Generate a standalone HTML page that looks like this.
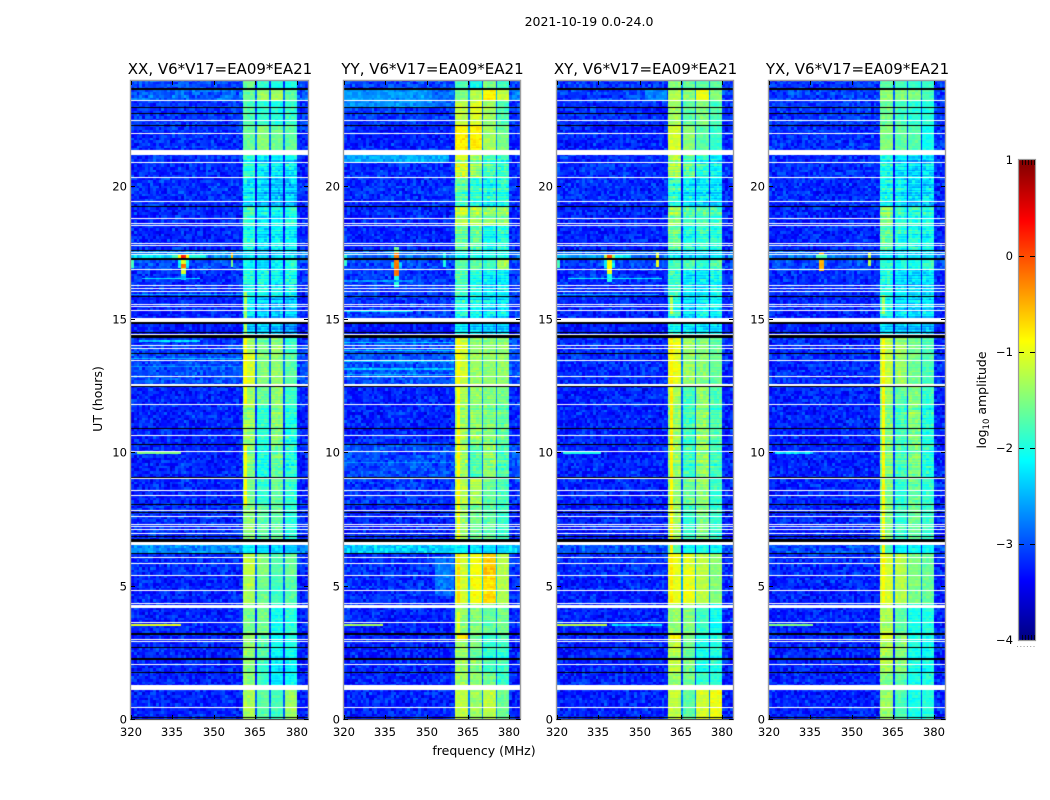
<!DOCTYPE html>
<html lang="en">
<head>
<meta charset="utf-8">
<title>2021-10-19 0.0-24.0 waterfall plots</title>
<style>
  html, body { margin: 0; padding: 0; background: #fff; }
  #figure { position: relative; width: 1050px; height: 800px; overflow: hidden; background: #fff; }
  #figure canvas { position: absolute; display: block; }
  #overlay { position: absolute; left: 0; top: 0; }
  #overlay text { font-family: "DejaVu Sans", "Liberation Sans", sans-serif; fill: #000; }
</style>
</head>
<body>
<div id="figure">
  <svg id="overlay" width="1050" height="800" viewBox="0 0 1050 800">
    <text x="589" y="26" font-size="12.5" text-anchor="middle">2021-10-19 0.0-24.0</text>
    <text x="484" y="755" font-size="12.5" text-anchor="middle">frequency (MHz)</text>
    <text transform="translate(102 399) rotate(-90)" font-size="12.5" text-anchor="middle">UT (hours)</text>
    <text transform="translate(986 400) rotate(-90)" font-size="12.5" text-anchor="middle">log<tspan font-size="8.5" dy="3">10</tspan><tspan dy="-3"> amplitude</tspan></text>
  </svg>
</div>
<script>
/* ---------- axis data ---------- */
const hourTicks = [0, 5, 10, 15, 20];
const freqTicks = [320, 335, 350, 365, 380];
const colorTicks = [1, 0, -1, -2, -3, -4];
const panelTitles = ['XX, V6*V17=EA09*EA21', 'YY, V6*V17=EA09*EA21', 'XY, V6*V17=EA09*EA21', 'YX, V6*V17=EA09*EA21'];

/* ---------- spectral windows (MHz) ---------- */
const bandRanges = [[360.5, 365.0], [365.7, 370.0], [370.7, 375.1], [375.8, 380.0]];
const bandCalibration = [0, 0.03, 0.08, 0.14];

/* ---------- time blocks (hours) and log10 amplitude: [background, band1, band2, band3, band4] ---------- */
const blockStarts = [0, 1.27, 1.75, 2.23, 3.19, 4.29, 5.39, 6.21, 6.67, 8.05, 9.05, 10.3, 11.8, 12.5, 13.71, 14.32, 15.05, 15.85, 16.87, 17.23, 17.55, 18.5, 19.22, 20.31, 21.33, 22.26, 23.2, 23.63];
const blockStripe = [0.1, 0.2, 0.2, 0.2, 0.15, 0.1, 0.08, 0.15, 0.2, 0.2, 0.3, 0.25, 0.2, 0.15, 0.15, 0.3, 0.35, 0.35, 0.25, 0.25, 0.35, 0.3, 0.4, 0.4, 0.1, 0.15, 0.1, 0.15];

const xxLevels = [
  [-3.2, -1.3, -1.7, -1.9, -1.5], [-3.2, -1.5, -1.85, -2.3, -2.2], [-3.2, -1.45, -1.9, -2.3, -2.3], [-3.2, -1.4, -1.75, -2.2, -2.2],
  [-3.2, -1.55, -1.6, -2.1, -2.05], [-3.2, -1.3, -1.6, -1.9, -1.85], [-3.15, -1.2, -1.5, -1.8, -1.75], [-2.65, -2.2, -2.3, -2.4, -2.5],
  [-3.15, -1.45, -1.7, -1.75, -2.1], [-3.2, -1.5, -1.9, -1.7, -2.0], [-3.2, -1.5, -2.05, -1.7, -2.1], [-3.2, -1.4, -1.9, -1.55, -2.1],
  [-3.2, -1.35, -1.65, -1.5, -2.0], [-3.0, -1.1, -1.5, -1.5, -1.8], [-3.1, -1.3, -1.6, -1.5, -2.0], [-3.25, -2.3, -2.4, -2.6, -2.8],
  [-3.2, -2.2, -2.4, -2.5, -2.5], [-3.15, -2.0, -2.05, -2.2, -2.2], [-3.0, -2.1, -2.3, -2.2, -2.1], [-2.7, -2.2, -2.4, -2.4, -2.4],
  [-3.2, -2.0, -2.3, -2.2, -2.3], [-3.2, -1.8, -2.1, -2.2, -2.1], [-3.15, -2.2, -2.35, -2.5, -2.5], [-3.15, -1.9, -2.2, -2.3, -2.3],
  [-3.15, -1.6, -1.5, -1.65, -1.8], [-3.1, -1.75, -1.9, -2.05, -2.0], [-2.9, -1.6, -1.4, -1.4, -1.8], [-3.0, -1.6, -1.9, -2.1, -2.2]
];
const yyLevels = [
  [-3.2, -1.2, -1.4, -1.3, -1.75], [-3.2, -1.35, -1.45, -1.65, -2.0], [-3.2, -1.35, -1.5, -1.9, -2.0], [-3.2, -1.4, -1.6, -2.0, -2.0],
  [-3.2, -1.4, -1.5, -1.7, -1.7], [-3.15, -1.1, -0.95, -0.8, -1.4], [-3.15, -1.1, -0.95, -0.7, -1.4], [-2.35, -2.15, -2.3, -2.4, -2.5],
  [-3.2, -1.4, -1.6, -1.75, -2.0], [-3.1, -1.2, -1.3, -1.7, -1.9], [-3.0, -1.35, -1.75, -1.5, -1.9], [-3.2, -1.35, -1.45, -1.6, -1.8],
  [-3.2, -1.3, -1.45, -1.55, -1.7], [-2.95, -1.1, -1.4, -1.5, -1.55], [-3.0, -1.1, -1.4, -1.5, -1.55], [-3.25, -2.2, -2.3, -2.5, -2.5],
  [-3.1, -2.0, -2.1, -2.3, -2.4], [-3.1, -1.8, -2.0, -2.3, -2.3], [-3.0, -1.7, -1.7, -1.9, -1.5], [-2.8, -2.0, -2.0, -2.05, -2.1],
  [-3.2, -1.6, -1.7, -2.1, -2.1], [-3.2, -1.2, -1.3, -1.5, -1.55], [-3.15, -1.7, -1.9, -2.1, -2.1], [-3.15, -1.1, -1.4, -1.9, -2.0],
  [-3.2, -0.8, -0.85, -1.4, -1.7], [-3.1, -1.2, -1.1, -1.45, -1.9], [-2.8, -1.5, -1.25, -0.9, -1.3], [-3.05, -1.8, -2.1, -1.6, -2.0]
];
const xyLevels = [
  [-3.2, -1.2, -1.7, -1.2, -1.1], [-3.2, -1.4, -1.6, -1.9, -2.1], [-3.2, -1.25, -1.6, -2.1, -2.1], [-3.2, -1.25, -1.6, -2.1, -2.1],
  [-3.2, -1.4, -1.5, -1.9, -2.2], [-3.2, -1.0, -1.0, -1.3, -1.6], [-3.15, -1.0, -1.05, -1.3, -1.6], [-2.95, -1.7, -2.1, -2.1, -2.3],
  [-3.2, -1.35, -1.9, -1.6, -2.0], [-3.2, -1.4, -1.6, -1.5, -2.0], [-3.2, -1.4, -1.85, -1.5, -1.9], [-3.2, -1.4, -1.85, -1.5, -1.9],
  [-3.2, -1.35, -1.8, -1.5, -1.9], [-3.15, -1.0, -1.4, -1.55, -1.75], [-3.15, -1.0, -1.4, -1.55, -1.75], [-3.25, -2.0, -2.2, -2.3, -2.4],
  [-3.2, -2.0, -2.3, -2.2, -2.3], [-3.15, -1.9, -2.2, -2.3, -2.2], [-3.05, -1.8, -1.8, -2.0, -1.8], [-2.85, -2.2, -2.3, -2.3, -2.3],
  [-3.2, -1.6, -2.0, -2.0, -2.1], [-3.2, -1.4, -1.75, -1.8, -1.9], [-3.15, -1.9, -2.2, -2.3, -2.4], [-3.15, -1.3, -1.7, -2.0, -2.3],
  [-3.2, -1.1, -1.45, -1.75, -2.0], [-3.15, -1.35, -1.7, -1.6, -1.9], [-3.05, -1.25, -1.45, -1.05, -1.6], [-3.1, -1.5, -1.7, -1.8, -1.8]
];
const yxLevels = [
  [-3.2, -1.4, -1.8, -2.1, -2.1], [-3.2, -1.5, -1.7, -2.1, -2.1], [-3.2, -1.3, -1.5, -2.1, -2.2], [-3.2, -1.3, -1.5, -2.1, -2.2],
  [-3.2, -1.3, -1.7, -2.1, -2.1], [-3.2, -1.1, -1.25, -1.6, -1.75], [-3.15, -1.1, -1.25, -1.6, -1.75], [-3.0, -1.8, -2.2, -2.2, -2.3],
  [-3.2, -1.5, -1.9, -1.7, -2.0], [-3.2, -1.5, -1.9, -1.7, -2.0], [-3.2, -1.5, -1.8, -1.6, -2.1], [-3.2, -1.5, -1.8, -1.6, -2.1],
  [-3.2, -1.4, -1.7, -1.6, -2.0], [-3.15, -1.2, -1.4, -1.65, -1.9], [-3.15, -1.2, -1.4, -1.65, -1.9], [-3.25, -2.3, -2.4, -2.5, -2.6],
  [-3.2, -2.0, -2.3, -2.4, -2.4], [-3.15, -2.0, -2.3, -2.4, -2.4], [-3.05, -1.9, -2.0, -2.1, -2.0], [-2.85, -2.2, -2.3, -2.4, -2.4],
  [-3.2, -1.7, -2.0, -2.1, -2.2], [-3.2, -1.5, -1.9, -2.0, -2.1], [-3.15, -2.0, -2.2, -2.4, -2.4], [-3.15, -2.0, -2.2, -2.4, -2.4],
  [-3.15, -1.5, -1.7, -1.8, -2.2], [-3.1, -1.6, -1.8, -2.0, -2.1], [-3.05, -1.4, -1.5, -1.6, -1.9], [-3.1, -1.7, -1.8, -2.0, -2.0]
];

/* ---------- narrow RFI features: [panel, f0, f1, h0, h1, log10 amplitude] ---------- */
const rfiFeatures = [
  [0, 320, 335, 17.3, 17.4, -2.3], [0, 335, 337, 17.3, 17.4, -1.8], [0, 341, 347, 17.3, 17.4, -2.0], [0, 337, 341, 17.3, 17.4, -0.9], [0, 338, 340, 17.3, 17.4, 0.2],
  [0, 337, 341, 16.9, 17.2, -2.2], [0, 338, 340, 16.7, 17.2, -1.1], [0, 338.4, 339.6, 16.9, 17.05, -0.2], [0, 338, 340, 16.45, 16.7, -2.3],
  [0, 356, 357, 17.25, 17.5, -0.6], [0, 356, 357, 16.95, 17.2, -1.5], [0, 320, 321, 16.9, 17.2, -1.8], [0, 320, 338, 3.5, 3.55, -1.0],
  [0, 322, 338, 9.95, 10, -1.5], [0, 324, 345, 16.5, 16.55, -2.2], [0, 320, 360, 15.9, 15.95, -2.5], [0, 361, 362, 11.8, 14.3, -0.9],
  [0, 361, 362, 8, 10.3, -0.9], [0, 361, 362, 15.05, 16, -1.3], [0, 361, 362, 14.4, 14.8, -1.3], [0, 325, 355, 19.2, 19.25, -2.2],
  [0, 323, 345, 14.15, 14.2, -2.3], [0, 320, 360, 13.5, 13.55, -2.5], [0, 320, 360, 13.2, 13.25, -2.7],
  [1, 337, 341, 16.9, 17.15, -2.4], [1, 338.3, 339.7, 16.6, 17.5, -0.2], [1, 338.3, 339.7, 17.5, 17.7, -1.6], [1, 338.3, 339.7, 16.2, 16.6, -2.0],
  [1, 356, 357, 16.95, 17.5, -2.0], [1, 320, 321, 17, 17.4, -1.9], [1, 320, 360, 13.4, 13.45, -2.4], [1, 320, 360, 13.1, 13.15, -2.4],
  [1, 320, 360, 12.9, 12.95, -2.5], [1, 320, 360, 13.8, 13.85, -2.4], [1, 320, 360, 14.1, 14.15, -2.4], [1, 320, 358, 20.9, 21.15, -2.55],
  [1, 320, 352, 22.9, 23.6, -2.65], [1, 352, 360, 22.9, 23.6, -2.85], [1, 353, 360, 4.6, 6.1, -2.8], [1, 361, 362, 6.7, 14.3, -0.85],
  [1, 361, 362, 2.9, 4, -1.0], [1, 361, 365, 2.99, 3.19, -0.75], [1, 361, 362, 4.3, 6.2, -0.7], [1, 320, 334, 3.5, 3.55, -1.3],
  [1, 320, 345, 15.25, 15.3, -2.3], [1, 320, 345, 16.4, 16.45, -2.6], [1, 320, 360, 9.6, 9.65, -2.7],
  [2, 320, 335, 17.3, 17.4, -2.5], [2, 341, 347, 17.3, 17.4, -2.2], [2, 337, 341, 17.3, 17.4, -1.3], [2, 338, 340, 17.3, 17.4, 0], [2, 337, 341, 16.9, 17.2, -2.3], [2, 338, 340, 16.7, 17.2, -0.9],
  [2, 338, 340, 16.4, 16.7, -2.1], [2, 356, 357, 16.95, 17.5, -1.0], [2, 320, 321, 16.9, 17.2, -1.8], [2, 320, 338, 3.5, 3.55, -1.2],
  [2, 340, 358, 3.5, 3.55, -2.3], [2, 322, 336, 9.95, 10, -2.0], [2, 324, 358, 16.5, 16.55, -2.2], [2, 330, 357, 15.3, 15.35, -1.6],
  [2, 320, 357, 15.9, 15.95, -2.5], [2, 361, 362, 4.3, 14.3, -0.8], [2, 361, 365, 2.99, 3.19, -0.85], [2, 361, 362, 15.2, 15.9, -1.2],
  [2, 352, 360, 23.2, 23.6, -2.7],
  [3, 338.3, 339.7, 16.8, 17.5, -0.5], [3, 337, 341, 17.3, 17.4, -1.8], [3, 356, 357, 17, 17.5, -1.2], [3, 361, 362, 4.3, 14.3, -0.85],
  [3, 320, 336, 3.5, 3.55, -1.5], [3, 322, 336, 9.95, 10, -2.2], [3, 361, 362, 15.2, 15.9, -1.3], [3, 361, 365, 2.99, 3.19, -1.0]
];

/* ---------- flagged (no-data) times, hours ---------- */
const whiteLines = [23.2, 22.46, 21.96, 20.87, 20.31, 19.41, 18.77, 18.59, 18.52, 17.84, 17.76, 17.48, 17.41, 16.87, 16.24, 16.13, 16.04, 15.56, 15.45, 15.32, 14.42, 14.01, 13.91, 13.46, 12.85, 12.55, 12.49, 11.8, 10.64, 10.02, 9.01, 8.58, 8.39, 7.83, 7.61, 7.3, 7.2, 7.09, 6.96, 6.06, 5.84, 5.39, 4.83, 4.34, 3.63, 2.99, 2.89, 2.05, 0.44];
const whiteBands = [[21.15, 21.33], [14.89, 15.05], [4.16, 4.29], [6.52, 6.64], [1.09, 1.27]];
const blackLines = [22.94, 22.7, 22.26, 19.22, 17.55, 15.85, 14.5, 13.71, 12.45, 10.9, 10.3, 9.05, 8.05, 7.74, 6.85, 6.74, 6.21, 2.69, 1.75, 0.06];
const blackBands = [[23.6, 23.67], [17.2, 17.27], [14.82, 14.88], [14.3, 14.38], [6.65, 6.7], [3.16, 3.23], [2.2, 2.27]];

/* ---------- estimated fine-grain texture offsets ---------- */
const speckleA = [0.12, -0.18, 0.05, 0.22, -0.09, -0.2, 0.16, 0.02, -0.14, 0.24, -0.05, 0.09, -0.22, 0.14, -0.02, 0.19, -0.16, 0.07, -0.11, 0.21, -0.24, 0.04, 0.13, -0.07, -0.19, 0.25, 0.01, -0.12, 0.17, -0.21, 0.08, -0.03, 0.2, -0.15, 0.1, -0.25, 0.15, 0.03, -0.08, 0.23, -0.17, 0.06, -0.1, 0.18, -0.23, 0.11, -0.01, 0.26, -0.13, 0.0, -0.2, 0.14, 0.07, -0.16, 0.22, -0.06, 0.04, -0.18, 0.12, -0.09, 0.19];
const speckleB = [-0.1, 0.14, 0.03, -0.17, 0.09, 0.18, -0.06, -0.13, 0.11, -0.02, 0.16, -0.15, 0.06, 0.01, -0.12, 0.2, -0.08, -0.16, 0.13, 0.05, -0.04, 0.17, -0.19, 0.08, -0.11, 0.02, 0.15, -0.14, 0.1, -0.03, -0.18, 0.12, 0.07, -0.09, 0.19, -0.05, -0.13, 0.04, 0.16, -0.2, 0.09, -0.01, 0.13, -0.16, 0.06, -0.07, 0.11];
const stripeOffsets = [0.3, -0.4, 0.1, 0.6, -0.8, 0.2, -0.2, 0.5, -0.6, 0.0, 0.4, -0.3, 0.7, -0.5, 0.15, -0.9, 0.35, 0.05, -0.15, 0.55, -0.45, 0.25, -0.7, 0.45, -0.1, 0.65, -0.35, 0.1, -0.55, 0.3, 0.0];

/* ---------- layout ---------- */
const panelBoxes = [
  { left: 131, width: 177 }, { left: 344, width: 176 }, { left: 557, width: 176 }, { left: 769, width: 176 }
];
const panelLevels = [xxLevels, yyLevels, xyLevels, yxLevels];
const plotBottom = 719, plotTop = 81, pxPerHour = 26.67;
const freqMin = 320, freqMax = 384;
const svgNS = 'http://www.w3.org/2000/svg';
const overlay = document.getElementById('overlay');
const figure = document.getElementById('figure');

function yScale(h) { return plotBottom - h * pxPerHour; }
function xScale(box, f) { return box.left + (f - freqMin) * box.width / (freqMax - freqMin); }
function colorT(v) { return Math.min(1, Math.max(0, (v + 4) / 5)); }
function jet(v) {
  const t = colorT(v);
  const c = function (x) { return Math.round(255 * Math.min(1, Math.max(0, x))); };
  return 'rgb(' + c(1.5 - Math.abs(4 * t - 3)) + ',' + c(1.5 - Math.abs(4 * t - 2)) + ',' + c(1.5 - Math.abs(4 * t - 1)) + ')';
}
function svgEl(tag, attrs, parent) {
  const el = document.createElementNS(svgNS, tag);
  for (const k in attrs) el.setAttribute(k, attrs[k]);
  (parent || overlay).appendChild(el);
  return el;
}
function svgLabel(str, x, y, size, anchor, parent) {
  const el = svgEl('text', { x: x, y: y, 'font-size': size, 'text-anchor': anchor }, parent);
  el.textContent = str;
  return el;
}

function blockIndex(h) {
  let idx = 0;
  for (let i = 0; i < blockStarts.length; i++) if (h >= blockStarts[i]) idx = i;
  return idx;
}
function bandIndex(f) {
  for (let i = 0; i < bandRanges.length; i++) if (f >= bandRanges[i][0] && f < bandRanges[i][1]) return i;
  return -1;
}
function textureAt(col, row, p) {
  const a = (col * col * 3 + row * row * 5 + col * row * 7 + col * 11 + row * 13 + p * 19) % speckleA.length;
  const b = (col * col * 5 + row * row * 2 + col * row * 3 + col * 17 + row * 7 + p * 23) % speckleB.length;
  return speckleA[a] + speckleB[b];
}
function cellValue(p, f, h, col, row, bgRow) {
  const b = blockIndex(h);
  const lv = panelLevels[p][b];
  const band = bandIndex(f);
  let v;
  if (band >= 0) {
    const sp = textureAt(col, bgRow, p);
    v = lv[band + 1] + bandCalibration[band] + stripeOffsets[row % stripeOffsets.length] * blockStripe[b] * 0.9 + sp * (0.25 + blockStripe[b] * 1.2);
  } else if (f > bandRanges[0][0] && f < bandRanges[3][1]) {
    v = Math.min(lv[1], lv[2], lv[3], lv[4]) - 1.0 + textureAt(col, bgRow, p) * 0.35;
  } else {
    v = lv[0] - 0.03 + textureAt(col, bgRow, p) * 0.85;
  }
  for (const r of rfiFeatures) {
    if (r[0] === p && f >= r[1] && f < r[2] && h >= r[3] && h < r[4]) v = r[5] + textureAt(col, bgRow, p) * (r[5] < -2 ? 0.6 : 0.25);
  }
  return v;
}

function fillFlag(ctx, box, h0, h1, color) {
  const top = Math.round(yScale(h1)) - plotTop;
  const bottom = Math.round(yScale(h0)) - plotTop;
  ctx.fillStyle = color;
  ctx.fillRect(0, top, box.width, Math.max(1, bottom - top));
}

function drawHeatmap(p) {
  const box = panelBoxes[p];
  const canvas = document.createElement('canvas');
  
  
  canvas.width = box.width;
  canvas.height = plotBottom - plotTop;
  canvas.style.left = box.left + 'px';
  canvas.style.top = plotTop + 'px';
  figure.insertBefore(canvas, overlay);
  const ctx = canvas.getContext('2d');

  const edges = [];
  for (let f = freqMin; f <= freqMax; f++) edges.push(f);
  bandRanges.forEach(function (r) { edges.push(r[0], r[1]); });
  edges.sort(function (a, b) { return a - b; });

  const rowHours = 0.05, rows = 480;
  for (let r = 0; r < rows; r++) {
    const h0 = r * rowHours, h1 = h0 + rowHours, hm = h0 + rowHours / 2;
    const y0 = Math.round(yScale(h1)) - plotTop, y1 = Math.round(yScale(h0)) - plotTop;
    if (y1 <= 0 || y1 <= y0) continue;
    for (let i = 0; i < edges.length - 1; i++) {
      if (edges[i + 1] <= edges[i]) continue;
      const fm = (edges[i] + edges[i + 1]) / 2;
      const x0 = Math.round(xScale(box, edges[i])) - box.left;
      const x1 = Math.round(xScale(box, edges[i + 1])) - box.left;
      if (x1 <= x0) continue;
      ctx.fillStyle = jet(cellValue(p, fm, hm, Math.floor(fm) - freqMin, r, Math.floor(r / 2)));
      ctx.fillRect(x0, y0, x1 - x0, y1 - y0);
    }
  }
  const hw = 0.018;
  whiteLines.forEach(function (h) { fillFlag(ctx, box, h - hw, h + hw, '#fff'); });
  whiteBands.forEach(function (b) { fillFlag(ctx, box, b[0], b[1], '#fff'); });
  blackLines.forEach(function (h) { fillFlag(ctx, box, h - hw, h + hw, '#000'); });
  blackBands.forEach(function (b) { fillFlag(ctx, box, b[0], b[1], '#000'); });
}

function drawAxes(p) {
  const box = panelBoxes[p];
  const right = box.left + box.width;
  const g = svgEl('g', {});
  
  

  const frame = svgEl('path', {
    d: 'M' + (box.left - 0.5) + ' ' + (plotBottom + 0.5) + 'V' + (plotTop - 0.5) + 'H' + (right + 0.5) + 'V' + (plotBottom + 0.5),
    fill: 'none', stroke: '#a0a0a0', 'stroke-width': 1.4
  }, g);
  
  
  const base = svgEl('line', { x1: box.left - 1, x2: right + 1, y1: plotBottom + 0.5, y2: plotBottom + 0.5, stroke: '#555', 'stroke-width': 1.2 }, g);
  
  

  const title = svgLabel(panelTitles[p], box.left + box.width / 2 + 0.5, 74, 15, 'middle', g);
  
  

  freqTicks.forEach(function (f) {
    const x = Math.round(xScale(box, f)) + 0.5;
    const bottomTick = svgEl('line', { x1: x, x2: x, y1: plotBottom, y2: plotBottom - 4, stroke: '#000', 'stroke-width': 1 }, g);
    
    
    const topTick = svgEl('line', { x1: x, x2: x, y1: plotTop, y2: plotTop + 4, stroke: '#000', 'stroke-width': 1 }, g);
    
    
    const label = svgLabel(String(f), x - 0.5, plotBottom + 17, 11.6, 'middle', g);
    
    
  });
  hourTicks.forEach(function (h) {
    const y = Math.round(yScale(h)) + 0.5;
    const leftTick = svgEl('line', { x1: box.left, x2: box.left + 4, y1: y, y2: y, stroke: '#000', 'stroke-width': 1 }, g);
    
    
    const rightTick = svgEl('line', { x1: right, x2: right - 4, y1: y, y2: y, stroke: '#000', 'stroke-width': 1 }, g);
    
    
    const label = svgLabel(String(h), box.left - 4, y + 4, 11.6, 'end', g);
    
    
  });
}

/* ---------- colorbar ---------- */
const cbBox = { left: 1019, right: 1035, top: 160, bottom: 640 };
function cbScale(v) { return cbBox.bottom - (v + 4) * (cbBox.bottom - cbBox.top) / 5; }
function drawColorbar() {
  const g = svgEl('g', {});
  
  
  const stepV = 5 / 240;
  for (let i = 0; i < 240; i++) {
    const v0 = -4 + i * stepV;
    const sw = svgEl('rect', {
      x: cbBox.left, y: cbScale(v0 + stepV), width: cbBox.right - cbBox.left, height: cbScale(v0) - cbScale(v0 + stepV) + 0.5,
      fill: jet(v0 + stepV / 2)
    }, g);
    
    
  }
  const frame = svgEl('rect', {
    x: cbBox.left - 0.5, y: cbBox.top - 0.5, width: cbBox.right - cbBox.left + 1, height: cbBox.bottom - cbBox.top + 1,
    fill: 'none', stroke: '#9a9a9a', 'stroke-width': 1.2
  }, g);
  
  
  colorTicks.forEach(function (v) {
    const y = Math.round(cbScale(v)) + 0.5;
    const label = svgLabel(v < 0 ? '\u2212' + Math.abs(v) : String(v), 1013, y + 3.5, 11.6, 'end', g);
    
    
    if (v !== 1 && v !== -4) {
      const tickL = svgEl('line', { x1: cbBox.left, x2: cbBox.left + 5, y1: y, y2: y, stroke: '#000', 'stroke-width': 1 }, g);
      
      
      const tickR = svgEl('line', { x1: cbBox.right, x2: cbBox.right - 5, y1: y, y2: y, stroke: '#000', 'stroke-width': 1 }, g);
      
      
    }
  });
  for (let x = cbBox.left + 3.5; x < cbBox.right; x += 3) {
    const upper = svgEl('line', { x1: x, x2: x, y1: cbBox.top, y2: cbBox.top + 5, stroke: '#000', 'stroke-width': 1, 'stroke-opacity': 0.8 }, g);
    
    
    const lower = svgEl('line', { x1: x, x2: x, y1: cbBox.bottom, y2: cbBox.bottom - 5, stroke: '#000', 'stroke-width': 1, 'stroke-opacity': 0.8 }, g);
    
    
  }
  for (let x = cbBox.left - 2; x < cbBox.right; x += 3.3) {
    const dot = svgEl('rect', { x: x, y: 646, width: 1, height: 1, fill: '#999' }, g);
    
    
  }
}

for (let p = 0; p < panelBoxes.length; p++) {
  drawHeatmap(p);
  drawAxes(p);
}
drawColorbar();
</script>
</body>
</html>
